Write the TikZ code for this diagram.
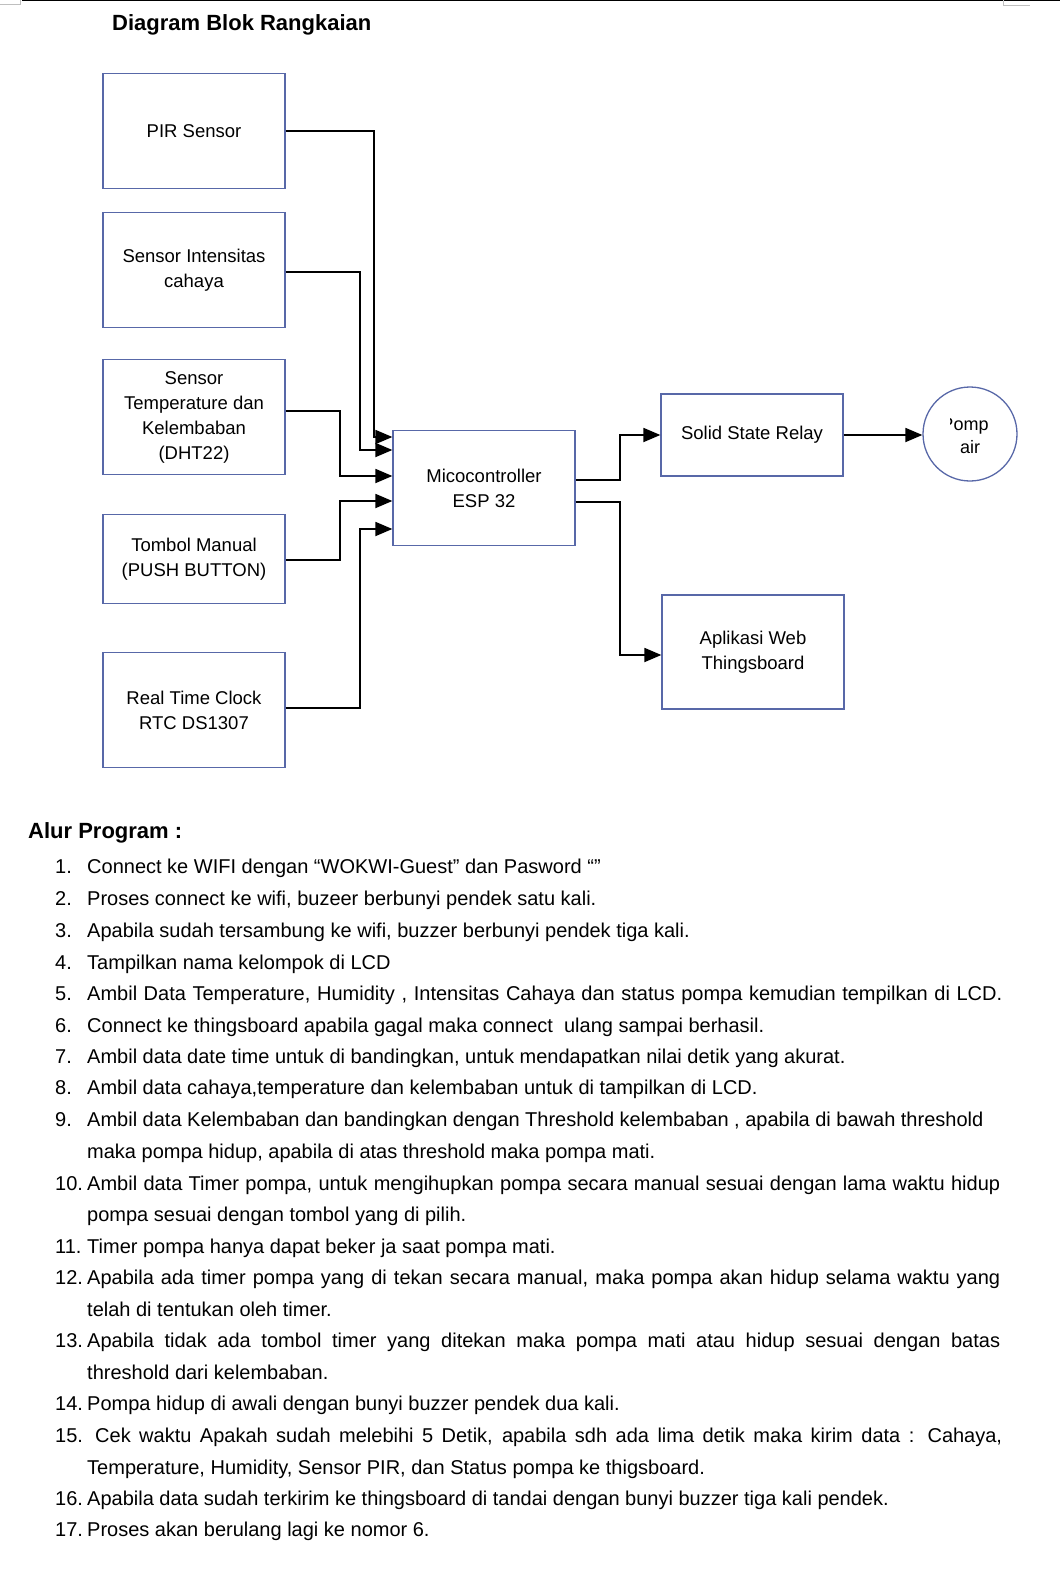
\documentclass[tikz,border=0pt]{standalone}
\usepackage{fontspec}
\setmainfont{Liberation Sans}
\usetikzlibrary{arrows.meta}
\definecolor{boxc}{RGB}{88,104,168}
\tikzset{
  blk/.style={draw=boxc, line width=1.3pt, minimum width=182pt, align=center,
    font=\fontsize{18.5}{25}\selectfont, inner sep=0pt},
  conn/.style={draw=black, line width=1.8pt, -{Triangle[length=17pt,width=14pt]}},
  li/.style={anchor=base west, inner sep=0pt, font=\fontsize{20}{23}\selectfont},
  hdr/.style={anchor=west, inner sep=0pt, font=\bfseries\fontsize{22}{25}\selectfont},
}
\begin{document}
\begin{tikzpicture}[x=1pt,y=-1pt]
\fill[white] (0,0) rectangle (1060,1571);
\useasboundingbox (0,0) rectangle (1060,1571);
% page edge marks
\draw[black, line width=1.5pt] (22,0.75) -- (1060,0.75);
\draw[gray!50, line width=1pt] (0,5) -- (20,5) -- (20,0);
\draw[gray!50, line width=1pt] (1003,0) -- (1003,6) -- (1030,6);

\node[hdr] (title) at (112,25) {Diagram Blok Rangkaian};

% blocks
\node[blk, minimum height=115pt] (pir) at (194,131) {PIR Sensor};
\node[blk, minimum height=115pt] (ints) at (194,270) {Sensor Intensitas\\cahaya};
\node[blk, minimum height=115pt] (dht) at (194,417) {Sensor\\Temperature dan\\Kelembaban\\(DHT22)};
\node[blk, minimum height=89pt] (tom) at (194,559) {Tombol Manual\\(PUSH BUTTON)};
\node[blk, minimum height=115pt] (rtc) at (194,710) {Real Time Clock\\RTC DS1307};
\node[blk, minimum height=115pt] (mcu) at (484,488) {Micocontroller\\ESP 32};
\node[blk, minimum height=82pt] (ssr) at (752,435) {Solid State Relay};
\node[blk, minimum height=114pt] (app) at (753,652) {Aplikasi Web\\Thingsboard};
\node[circle, draw=boxc, line width=1.3pt, minimum size=94pt, inner sep=0pt] (pump) at (970,434) {};
\begin{scope}
  \clip (950,405) rectangle (987,465);
  \node[align=center, inner sep=0pt, font=\fontsize{18}{23}\selectfont] (pumptxt) at (970,436) {Pompa\\air};
\end{scope}

% connectors
\draw[conn] (pir.east) -- ++(88,0) |- ([yshift=51pt]mcu.west);
\draw[conn] ([yshift=-2pt]ints.east) -- ++(74,0) |- ([yshift=38pt]mcu.west);
\draw[conn] ([yshift=6pt]dht.east) -- ++(54,0) |- ([yshift=12pt]mcu.west);
\draw[conn] ([yshift=-1pt]tom.east) -- ++(54,0) |- ([yshift=-13pt]mcu.west);
\draw[conn] ([yshift=2pt]rtc.east) -- ++(74,0) |- ([yshift=-41pt]mcu.west);
\draw[conn] ([yshift=8pt]mcu.east) -- ++(44,0) |- (ssr.west);
\draw[conn] ([yshift=-14pt]mcu.east) -- ++(44,0) |- ([yshift=-3pt]app.west);
\draw[conn] (ssr.east) -- (ssr.east -| pump.west);

% program flow
\node[hdr] (alur) at (28,833) {Alur Program :};

\node[li] (n1) at (55,873) {1.};
\node[li] (t1) at (87,873) {Connect ke WIFI dengan “WOKWI-Guest” dan Pasword “”};
\node[li] (n2) at (55,905) {2.};
\node[li] (t2) at (87,905) {Proses connect ke wifi, buzeer berbunyi pendek satu kali.};
\node[li] (n3) at (55,937) {3.};
\node[li] (t3) at (87,937) {Apabila sudah tersambung ke wifi, buzzer berbunyi pendek tiga kali.};
\node[li] (n4) at (55,969) {4.};
\node[li] (t4) at (87,969) {Tampilkan nama kelompok di LCD};
\node[li] (n5) at (55,1000) {5.};
\node[li] (t5) at (87,1000) {\makebox[915pt][s]{Ambil Data Temperature, Humidity , Intensitas Cahaya dan status pompa kemudian tempilkan di LCD.}};
\node[li] (n6) at (55,1032) {6.};
\node[li] (t6) at (87,1032) {Connect ke thingsboard apabila gagal maka connect\ \ ulang sampai berhasil.};
\node[li] (n7) at (55,1063) {7.};
\node[li] (t7) at (87,1063) {Ambil data date time untuk di bandingkan, untuk mendapatkan nilai detik yang akurat.};
\node[li] (n8) at (55,1094) {8.};
\node[li] (t8) at (87,1094) {Ambil data cahaya,temperature dan kelembaban untuk di tampilkan di LCD.};
\node[li] (n9) at (55,1126) {9.};
\node[li] (t9) at (87,1126) {Ambil data Kelembaban dan bandingkan dengan Threshold kelembaban , apabila di bawah threshold};
\node[li] (t9b) at (87,1158) {maka pompa hidup, apabila di atas threshold maka pompa mati.};
\node[li] (n10) at (55,1190) {10.};
\node[li] (t10) at (87,1190) {\makebox[913pt][s]{Ambil data Timer pompa, untuk mengihupkan pompa secara manual sesuai dengan lama waktu hidup}};
\node[li] (t10b) at (87,1221) {pompa sesuai dengan tombol yang di pilih.};
\node[li] (n11) at (55,1253) {11.};
\node[li] (t11) at (87,1253) {Timer pompa hanya dapat beker ja saat pompa mati.};
\node[li] (n12) at (55,1284) {12.};
\node[li] (t12) at (87,1284) {\makebox[913pt][s]{Apabila ada timer pompa yang di tekan secara manual, maka pompa akan hidup selama waktu yang}};
\node[li] (t12b) at (87,1316) {telah di tentukan oleh timer.};
\node[li] (n13) at (55,1347) {13.};
\node[li] (t13) at (87,1347) {\makebox[913pt][s]{Apabila tidak ada tombol timer yang ditekan maka pompa mati atau hidup sesuai dengan batas}};
\node[li] (t13b) at (87,1379) {threshold dari kelembaban.};
\node[li] (n14) at (55,1410) {14.};
\node[li] (t14) at (87,1410) {Pompa hidup di awali dengan bunyi buzzer pendek dua kali.};
\node[li] (n15) at (55,1442) {15.};
\node[li] (t15) at (95,1442) {\makebox[907pt][s]{Cek waktu Apakah sudah melebihi 5 Detik, apabila sdh ada lima detik maka kirim data : Cahaya,}};
\node[li] (t15b) at (87,1474) {Temperature, Humidity, Sensor PIR, dan Status pompa ke thigsboard.};
\node[li] (n16) at (55,1505) {16.};
\node[li] (t16) at (87,1505) {Apabila data sudah terkirim ke thingsboard di tandai dengan bunyi buzzer tiga kali pendek.};
\node[li] (n17) at (55,1536) {17.};
\node[li] (t17) at (87,1536) {Proses akan berulang lagi ke nomor 6.};
\end{tikzpicture}
\end{document}
